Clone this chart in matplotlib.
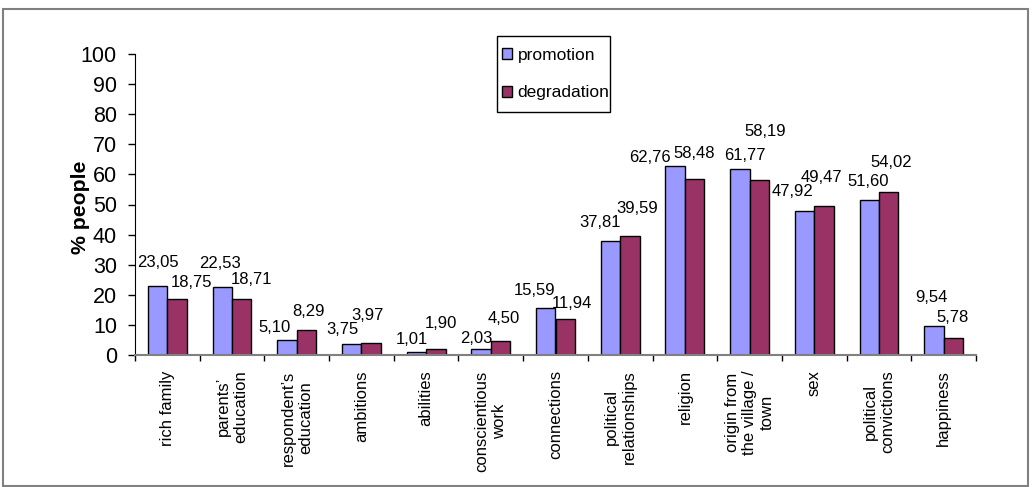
import numpy as np
import matplotlib
matplotlib.use("Agg")
import matplotlib.pyplot as plt
from matplotlib.patches import Rectangle

plt.rcParams["font.family"] = ["Liberation Sans", "DejaVu Sans"]

categories = [
    "rich family", "parents’\neducation", "respondent’s\neducation", "ambitions",
    "abilities", "conscientious\nwork", "connections", "political\nrelationships",
    "religion", "origin from\nthe village /\ntown", "sex", "political\nconvictions",
    "happiness",
]
promotion = [23.05, 22.53, 5.10, 3.75, 1.01, 2.03, 15.59, 37.81, 62.76, 61.77, 47.92, 51.60, 9.54]
degradation = [18.75, 18.71, 8.29, 3.97, 1.90, 4.50, 11.94, 39.59, 58.48, 58.19, 49.47, 54.02, 5.78]

# label offsets in pixels (dx, up), tuned to where the labels sit in the original
promo_offsets = [(0, 23), (-2, 24), (-13, 12), (-9, 14), (-5, 12), (-5, 10), (-11, 18),
                 (-10, 19), (-25, 9), (5, 14), (-12, 19), (-1, 18), (-3, 29)]
degr_offsets = [(14, 16), (10, 19), (2, 19), (-4, 28), (5, 26), (3, 23), (7, 16),
                (7, 27), (0, 25), (6, 48), (-3, 29), (3, 30), (-1, 20)]

BLUE = "#9999FF"
PLUM = "#993366"

fig = plt.figure(figsize=(10.34, 4.87), dpi=100)
ax = fig.add_axes([135 / 1034, 1 - 355 / 487, 841 / 1034, 301 / 487])

x = np.arange(len(categories))
w = 0.3
b1 = ax.bar(x - w / 2, promotion, w, color=BLUE, edgecolor="black", linewidth=1, label="promotion")
b2 = ax.bar(x + w / 2, degradation, w, color=PLUM, edgecolor="black", linewidth=1, label="degradation")


def fmt(v):
    return f"{v:.2f}".replace(".", ",")


for xi, v, off in zip(x - w / 2, promotion, promo_offsets):
    ax.annotate(fmt(v), (xi, v), xytext=off, textcoords="offset pixels",
                ha="center", va="center", fontsize=12)
for xi, v, off in zip(x + w / 2, degradation, degr_offsets):
    ax.annotate(fmt(v), (xi, v), xytext=off, textcoords="offset pixels",
                ha="center", va="center", fontsize=12)

ax.set_xlim(-0.5, len(categories) - 0.5)
ax.set_ylim(0, 100)
ax.set_yticks(range(0, 101, 10))
ax.tick_params(axis="y", labelsize=15.5, length=5, width=1, pad=8, direction="out")

ax.set_xticks(x)
ax.set_xticklabels(categories, rotation=90, fontsize=12, ha="center", va="top",
                   multialignment="center")
ax.set_xticks(np.arange(len(categories) + 1) - 0.5, minor=True)
ax.tick_params(axis="x", which="major", length=0, pad=11)
ax.tick_params(axis="x", which="minor", length=4, width=1, direction="out")

for s in ["top", "right"]:
    ax.spines[s].set_visible(False)
ax.spines["left"].set_color("black")
ax.spines["bottom"].set_color("#808080")
ax.spines["bottom"].set_linewidth(1.5)

fig.text(80 / 1034, 1 - 207 / 487, "% people", rotation=90, ha="center", va="center",
         fontsize=15.3, fontweight="bold")

# legend box drawn by hand so it hugs the text like the original
fig.patches.append(Rectangle((497 / 1034, 1 - 112 / 487), 113 / 1034, 76 / 487,
                             transform=fig.transFigure, fill=True, facecolor="white",
                             edgecolor="black", linewidth=1, zorder=5))
leg = fig.legend(handles=[b1, b2], loc="center left", bbox_to_anchor=(502 / 1034, 1 - 74 / 487),
                 fontsize=12.5, frameon=False, handlelength=0.6,
                 handleheight=0.6, handletextpad=0.3, labelspacing=1.32,
                 borderpad=0, borderaxespad=0)
leg.set_zorder(6)

fig.patches.append(Rectangle((3 / 1034, 1 - 486 / 487), 1025 / 1034, 477 / 487,
                             transform=fig.transFigure, fill=False,
                             edgecolor="#808080", linewidth=1.5))

fig.savefig("out.png", dpi=100)
